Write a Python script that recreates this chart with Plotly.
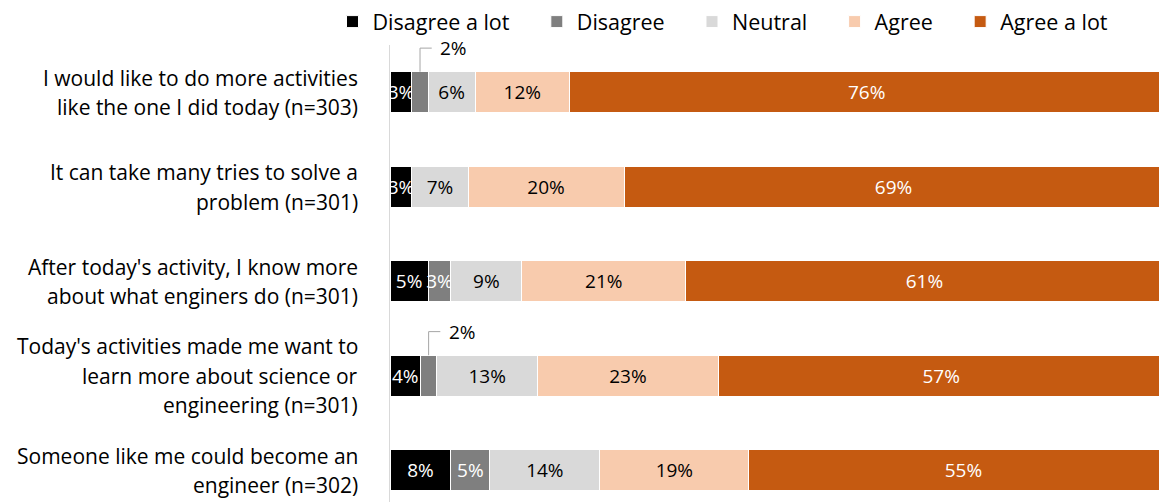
import plotly.graph_objects as go

category_lines = [
    ["I would like to do more activities", "like the one I did today (n=303)"],
    ["It can take many tries to solve a", "problem (n=301)"],
    ["After today's activity, I know more", "about what enginers do (n=301)"],
    ["Today's activities made me want to", "learn more about science or", "engineering (n=301)"],
    ["Someone like me could become an", "engineer (n=302)"],
]

series_names = ["Disagree a lot", "Disagree", "Neutral", "Agree", "Agree a lot"]
disagree_a_lot = [2.8, 2.8, 4.9, 3.9, 7.8]
disagree = [2.1, 0.0, 2.9, 2.1, 5.0]
neutral = [6.0, 7.2, 9.1, 12.9, 14.1]
agree = [12.1, 20.0, 21.0, 23.2, 19.1]
agree_a_lot = [76.2, 69.1, 61.2, 57.1, 55.0]

# labels of the Disagree series drawn outside with a leader line
outside_label_rows = [0, 3]

colors = ["#000000", "#7f7f7f", "#d9d9d9", "#f8cbad", "#c55a11"]
text_colors = ["#ffffff", "#ffffff", "#000000", "#000000", "#ffffff"]

FONT = "'Open Sans', Lato, sans-serif"
CAT_FS = 21
LBL_FS = 19
LEG_FS = 21.5
BW = 0.434
LINE_PX = 29.5
NBSP = "\u00a0"

all_series = [disagree_a_lot, disagree, neutral, agree, agree_a_lot]
idx = list(range(len(category_lines)))

fig = go.Figure()
for s, (name, vals) in enumerate(zip(series_names, all_series)):
    texts = []
    for i, v in enumerate(vals):
        if v <= 0 or (s == 1 and i in outside_label_rows):
            texts.append("")
        else:
            texts.append(f"{round(v):.0f}%")
    fig.add_trace(go.Bar(
        name=name + NBSP * 4,
        y=idx,
        x=vals,
        orientation="h",
        width=BW,
        marker=dict(color=colors[s], line=dict(color="#ffffff", width=1)),
        text=texts,
        textposition="inside",
        insidetextanchor="middle",
        textangle=0,
        textfont=dict(family=FONT, size=LBL_FS, color=text_colors[s]),
        hoverinfo="skip",
    ))

# leader lines and outside labels
for i in outside_label_rows:
    x0 = disagree_a_lot[i] + disagree[i] / 2
    y0 = i - BW / 2
    y1 = y0 - 0.25
    x1 = x0 + 1.5
    fig.add_shape(type="path", xref="x", yref="y",
                  path=f"M {x0},{y0} L {x0},{y1} L {x1},{y1}",
                  line=dict(color="#a6a6a6", width=1))
    fig.add_annotation(x=x1 + 0.8, y=y1, xref="x", yref="y",
                       text=f"{round(disagree[i]):.0f}%", showarrow=False,
                       xanchor="left", yanchor="middle",
                       font=dict(family=FONT, size=LBL_FS, color="#000000"))

# category labels (one annotation per line for Excel-like line spacing)
for i, lines in enumerate(category_lines):
    n = len(lines)
    for k, line in enumerate(lines):
        fig.add_annotation(x=0, y=i, xref="paper", yref="y", text=line,
                           showarrow=False, xanchor="right", yanchor="middle",
                           xshift=-30, yshift=((n - 1) / 2 - k) * LINE_PX,
                           font=dict(family=FONT, size=CAT_FS, color="#000000"))

# page body has an 8px margin, so the figure is 8px smaller than the window
fig.update_layout(
    barmode="stack",
    width=1159, height=494,
    margin=dict(l=382, r=0, t=37, b=0, autoexpand=False),
    paper_bgcolor="#ffffff",
    plot_bgcolor="#ffffff",
    font=dict(family=FONT, size=CAT_FS, color="#000000"),
    uniformtext=dict(minsize=LBL_FS, mode="show"),
    showlegend=True,
    legend=dict(orientation="h", x=-0.074, xanchor="left", y=1.096, yanchor="top",
                font=dict(family=FONT, size=LEG_FS, color="#000000"),
                traceorder="normal", itemclick=False, itemdoubleclick=False),
    xaxis=dict(range=[0, 99.6], showgrid=False, zeroline=False, showticklabels=False,
               showline=False, fixedrange=True),
    yaxis=dict(range=[4.336, -0.5], tickmode="array", tickvals=idx,
               showticklabels=False,
               showgrid=False, zeroline=False, showline=True, linecolor="#d9d9d9",
               linewidth=1, ticks="", fixedrange=True),
)

fig.write_html("out.html")
